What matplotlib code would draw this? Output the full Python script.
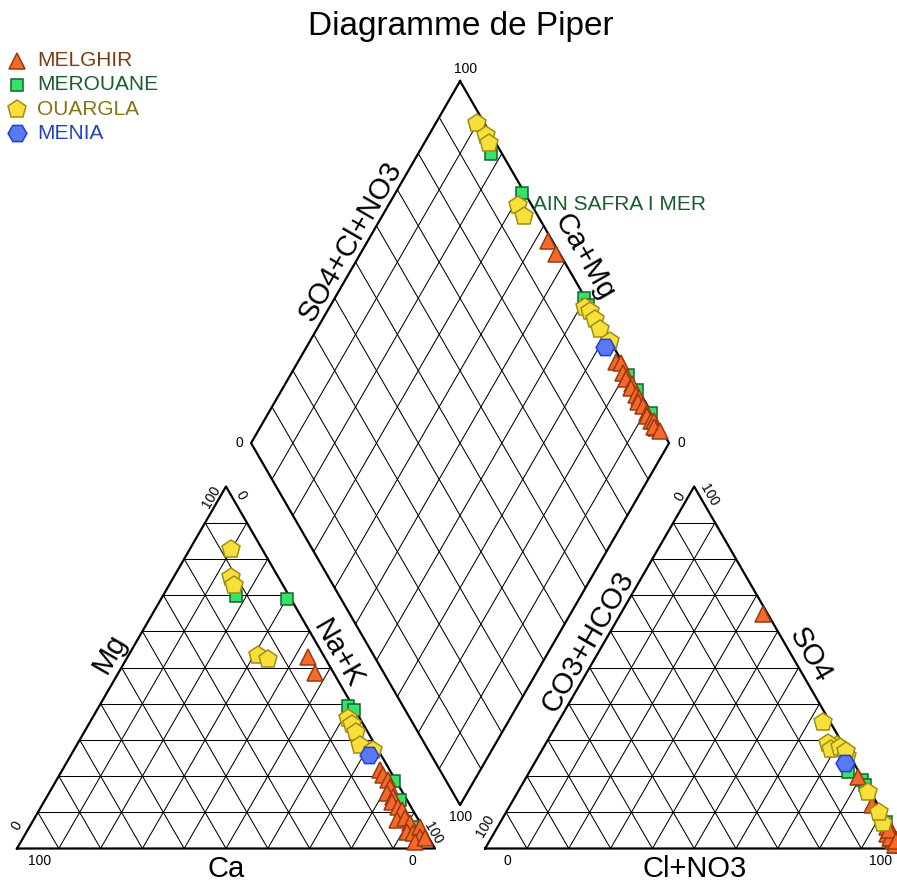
import numpy as np
import matplotlib.pyplot as plt

plt.rcParams['font.family'] = ['Liberation Sans', 'DejaVu Sans']

# major ions in meq %, one entry per sample
melghir_ca = [4.0, 4.5, 2.3, 2.2, 1.7, 2.2, 4.0, 2.8, 3.9, 3.1, 2.7, 5.2, 3.0, 2.5, 4.5, 3.1, 0.6, 1.9, 3.8, 1.0]
melghir_mg = [53.0, 48.5, 21.7, 20.3, 18.9, 17.1, 15.2, 14.3, 12.9, 11.5, 10.6, 7.9, 8.3, 7.0, 4.6, 4.2, 6.0, 3.3, 1.9, 2.8]
melghir_na = [43.0, 47.0, 76.0, 77.5, 79.4, 80.7, 80.8, 82.9, 83.2, 85.4, 86.7, 86.9, 88.7, 90.5, 90.9, 92.7, 93.4, 94.8, 94.3, 96.2]
melghir_hco3 = [1.1, 0.9, 1.5, 0.5, 1.3, 1.0, 1.4, 0.8, 1.5, 1.2, 0.9, 1.8, 1.0, 1.3, 1.6, 1.2, 0.5, 1.0, 1.4, 0.6]
melghir_so4 = [64.8, 19.8, 12.0, 5.0, 3.0, 4.0, 2.0, 6.0, 1.0, 3.0, 2.0, 4.0, 1.0, 2.0, 3.0, 1.0, 2.0, 5.0, 1.0, 2.0]
melghir_cl = [34.1, 79.3, 86.5, 94.5, 95.7, 95.0, 96.6, 93.2, 97.5, 95.8, 97.1, 94.2, 98.0, 96.7, 95.4, 97.8, 97.5, 94.0, 97.6, 97.4]

merouane_ca = [12.6, 0.9, 1.1, 0.3, 0.5, 1.7, 2.5]
merouane_mg = [69.8, 68.8, 39.4, 38.2, 18.7, 13.4, 6.0]
merouane_na = [17.6, 30.3, 59.5, 61.5, 80.8, 84.9, 91.5]
merouane_hco3 = [2.6, 0.5, 0.3, 0.3, 0.3, 0.4, 0.3]
merouane_so4 = [21.2, 18.9, 17.5, 3.0, 7.4, 2.0, 1.0]
merouane_cl = [76.2, 80.6, 82.2, 96.7, 92.3, 97.6, 98.7]

ouargla_ca = [7.5, 11.3, 11.8, 15.7, 13.8, 2.9, 2.8, 2.8, 3.6, 1.2]
ouargla_mg = [82.7, 75.1, 72.7, 53.5, 52.3, 36.0, 34.3, 32.2, 28.6, 27.1]
ouargla_na = [9.8, 13.6, 15.5, 30.8, 33.9, 61.1, 62.9, 65.0, 67.8, 71.7]
ouargla_hco3 = [1.8, 1.4, 1.6, 3.3, 3.5, 1.2, 0.7, 0.6, 0.7, 0.2]
ouargla_so4 = [34.9, 7.0, 28.6, 29.2, 27.5, 28.0, 25.5, 15.7, 10.2, 26.8]
ouargla_cl = [63.3, 91.6, 69.8, 67.5, 69.0, 70.8, 73.8, 83.7, 89.1, 73.0]

menia_ca = [2.9]
menia_mg = [25.7]
menia_na = [71.4]
menia_hco3 = [2.0]
menia_so4 = [23.7]
menia_cl = [74.3]

labelled_site = 'AIN SAFRA I MER'

GAP = 12
H = np.sqrt(3) / 2


def cation_xy(ca, mg, na):
    mg, na = np.asarray(mg), np.asarray(na)
    return na + mg / 2, mg * H


def anion_xy(hco3, so4, cl):
    so4, cl = np.asarray(so4), np.asarray(cl)
    return 100 + GAP + cl + so4 / 2, so4 * H


def diamond_xy(na, hco3):
    na, hco3 = np.asarray(na), np.asarray(hco3)
    x = (na - hco3 + 200 + GAP) / 2
    y = (200 + GAP - hco3 - na) * H
    return x, y


fig = plt.figure(figsize=(8.97, 8.82), dpi=100)
ax = fig.add_axes([0, 0, 1, 1])
ax.set_xlim(-17 / 4.18, 880 / 4.18)
ax.set_ylim(-33.5 / 4.18, 848.5 / 4.18)
ax.axis('off')

glw = 0.75
olw = 1.6
ox = 100 + GAP
for f in range(10, 100, 10):
    # cation triangle
    ax.plot([f / 2, 100 - f / 2], [f * H, f * H], color='k', lw=glw)
    ax.plot([f, f + (100 - f) / 2], [0, (100 - f) * H], color='k', lw=glw)
    ax.plot([100 - f, (100 - f) / 2], [0, (100 - f) * H], color='k', lw=glw)
    # anion triangle
    ax.plot([ox + f / 2, ox + 100 - f / 2], [f * H, f * H], color='k', lw=glw)
    ax.plot([ox + f, ox + f + (100 - f) / 2], [0, (100 - f) * H], color='k', lw=glw)
    ax.plot([ox + 100 - f, ox + (100 - f) / 2], [0, (100 - f) * H], color='k', lw=glw)
    # diamond
    xa, ya = diamond_xy([f, f], [0, 100])
    ax.plot(xa, ya, color='k', lw=glw)
    xb, yb = diamond_xy([0, 100], [f, f])
    ax.plot(xb, yb, color='k', lw=glw)

ax.plot([0, 100, 50, 0], [0, 0, 100 * H, 0], color='k', lw=olw)
ax.plot([ox, ox + 100, ox + 50, ox], [0, 0, 100 * H, 0], color='k', lw=olw)
dx, dy = diamond_xy([0, 100, 100, 0, 0], [0, 0, 100, 100, 0])
ax.plot(dx, dy, color='k', lw=olw)

styles = [
    ('MELGHIR', '^', 11.5, '#f5692a', '#9a3a10', '#7a3c12',
     melghir_ca, melghir_mg, melghir_na, melghir_hco3, melghir_so4, melghir_cl),
    ('MEROUANE', 's', 9, '#35e26a', '#14642a', '#1d5c2c',
     merouane_ca, merouane_mg, merouane_na, merouane_hco3, merouane_so4, merouane_cl),
    ('OUARGLA', 'p', 13.5, '#f8e03c', '#a08c12', '#857514',
     ouargla_ca, ouargla_mg, ouargla_na, ouargla_hco3, ouargla_so4, ouargla_cl),
    ('MENIA', 'H', 13.5, '#5a78f2', '#1f40d0', '#2144c4',
     menia_ca, menia_mg, menia_na, menia_hco3, menia_so4, menia_cl),
]
zorders = {'MEROUANE': 3, 'MELGHIR': 4, 'OUARGLA': 5, 'MENIA': 6}

for name, mk, ms, fc, ec, tc, ca, mg, na, hco3, so4, cl in styles:
    kw = dict(ls='none', marker=mk, ms=ms, mfc=fc, mec=ec, mew=1.1,
              zorder=zorders[name], clip_on=False)
    ax.plot(*cation_xy(ca, mg, na), **kw)
    ax.plot(*anion_xy(hco3, so4, cl), **kw)
    ax.plot(*diamond_xy(na, hco3), **kw)

# named well in the diamond
px, py = diamond_xy(merouane_na[1], merouane_hco3[1])
ax.annotate(labelled_site, (px, py), xytext=(7.5, -8.5), textcoords='offset points',
            ha='left', va='center', fontsize=15, color='#1d5c2c', zorder=7)

# legend
for i, (name, mk, ms, fc, ec, tc, *_) in enumerate(styles):
    yy = 1 - (60.5 + 24.3 * i) / 882
    ax.plot([16.7 / 897], [yy], transform=ax.transAxes, marker=mk, ms=ms,
            mfc=fc, mec=ec, mew=1.1, ls='none', clip_on=False)
    ax.text(37 / 897, yy, name, transform=ax.transAxes, ha='left', va='center',
            fontsize=15, color=tc)

fig.text(0.514, 0.97, 'Diagramme de Piper', ha='center', va='center', fontsize=24)

# axis names
lab = dict(fontsize=21, ha='center', va='center')
ax.text(22.2, 46.6, 'Mg', rotation=60, **lab)
ax.text(76.8, 46.6, 'Na+K', rotation=-60, **lab)
ax.text(50, -4.8, 'Ca', **lab)
ax.text(ox + 24.6, 49.4, 'CO3+HCO3', rotation=60, **lab)
ax.text(ox + 77.7, 46.3, 'SO4', rotation=-60, **lab)
ax.text(ox + 50, -4.8, 'Cl+NO3', **lab)
ax.text(79.7, 145.3, 'SO4+Cl+NO3', rotation=60, **lab)
ax.text(135.6, 141.6, 'Ca+Mg', rotation=-60, **lab)

# scale ends
tk = dict(fontsize=10, ha='center', va='center')
# cation triangle
ax.text(5.3, -3.0, '100', **tk)
ax.text(94.6, -3.0, '0', **tk)
ax.text(0.0, 5.4, '0', rotation=60, **tk)
ax.text(46.5, 84.2, '100', rotation=60, **tk)
ax.text(53.6, 84.6, '0', rotation=-60, **tk)
ax.text(99.6, 3.6, '100', rotation=-60, **tk)
# anion triangle
ax.text(ox + 5.3, -3.0, '0', **tk)
ax.text(ox + 94.6, -3.0, '100', **tk)
ax.text(ox + 0.0, 5.4, '100', rotation=60, **tk)
ax.text(ox + 46.5, 84.2, '0', rotation=60, **tk)
ax.text(ox + 53.6, 84.6, '100', rotation=-60, **tk)
# diamond
tx, ty = diamond_xy([0, 100, 0, 100], [0, 100, 100, 0])
ax.text(tx[0] + 1.2, ty[0] + 2.8, '100', **tk)
ax.text(tx[1], ty[1] - 2.9, '100', **tk)
ax.text(tx[2] - 2.7, ty[2], '0', **tk)
ax.text(tx[3] + 3.0, ty[3], '0', **tk)

fig.savefig('out.png', dpi=100)
